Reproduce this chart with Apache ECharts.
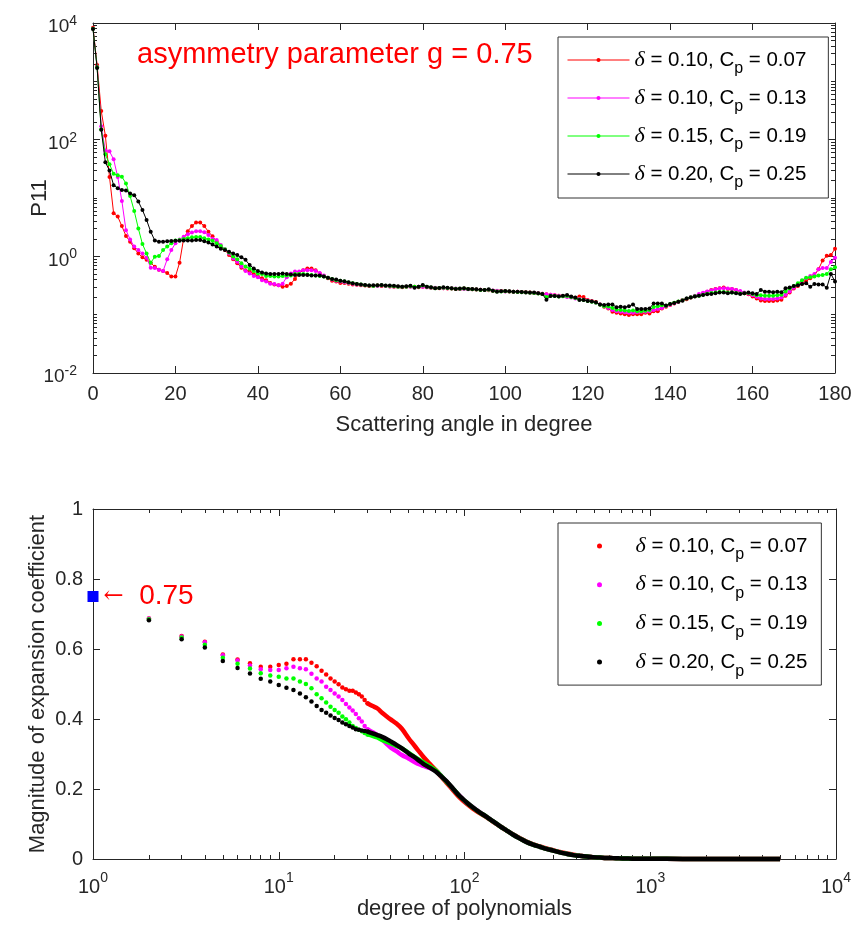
<!DOCTYPE html>
<html><head><meta charset="utf-8">
<script src="https://cdn.jsdelivr.net/npm/echarts@6.0.0/dist/echarts.min.js"></script>
<style>html,body{margin:0;padding:0;background:#fff}#c{width:860px;height:931px}</style>
</head><body><div id="c"></div>
<script>
// ---------- data ----------
const deltas = ['0.10', '0.10', '0.15', '0.20'];
const cps = ['0.07', '0.13', '0.19', '0.25'];
const colors = ['#ff0000', '#ff00ff', '#00ff00', '#000000'];
const gValue = 0.75;
const topTitle = 'asymmetry parameter g = ';
const topXName = 'Scattering angle in degree';
const topYName = 'P11';
const botXName = 'degree of polynomials';
const botYName = 'Magnitude of expansion coefficient';
const topYLabelValues = [0.01, 1, 100, 10000];
const botXLabelValues = [1, 10, 100, 1000, 10000];

// P11 vs scattering angle, 0..180 degree in 1 degree steps
const p11Red = [
8300,1900,310,117,23,5.5,4.8,3.3,2.24,1.78,
1.37,1.12,0.96,0.87,0.78,0.66,0.59,0.56,0.52,0.45,
0.45,0.78,2.04,2.7,3.3,3.8,3.8,3.3,2.65,2.2,
1.78,1.47,1.29,1.05,0.89,0.76,0.64,0.58,0.55,0.5,
0.45,0.42,0.39,0.35,0.33,0.32,0.3,0.31,0.34,0.41,
0.51,0.58,0.62,0.62,0.58,0.51,0.46,0.42,0.38,0.37,
0.35,0.35,0.34,0.33,0.325,0.32,0.315,0.31,0.31,0.315,
0.31,0.31,0.305,0.3,0.3,0.296,0.3,0.305,0.3,0.296,
0.3,0.296,0.29,0.286,0.283,0.283,0.28,0.28,0.276,0.276,
0.28,0.276,0.272,0.27,0.268,0.265,0.262,0.258,0.255,0.255,
0.252,0.25,0.248,0.248,0.245,0.242,0.24,0.236,0.232,0.228,
0.224,0.22,0.216,0.212,0.208,0.205,0.2,0.195,0.205,0.2,
0.178,0.172,0.165,0.15,0.137,0.128,0.112,0.108,0.105,0.102,
0.099,0.102,0.102,0.102,0.108,0.105,0.114,0.115,0.128,0.137,
0.147,0.156,0.167,0.178,0.184,0.197,0.207,0.217,0.232,0.248,
0.265,0.276,0.283,0.292,0.276,0.276,0.265,0.248,0.232,0.223,
0.204,0.19,0.175,0.172,0.172,0.172,0.175,0.18,0.21,0.24,
0.28,0.31,0.34,0.38,0.42,0.47,0.6,0.85,1.02,1.05,
1.35];
const p11Magenta = [
8000,1780,170,65,63,46,23,8.9,2.8,1.95,
1.47,1.28,1.12,0.95,0.64,0.63,0.59,0.56,0.89,1.28,
1.67,1.95,2.17,2.38,2.55,2.7,2.7,2.58,2.32,2.0,
1.9,1.56,1.32,1.12,0.92,0.81,0.67,0.56,0.51,0.46,
0.44,0.39,0.37,0.34,0.335,0.32,0.34,0.44,0.51,0.55,
0.55,0.58,0.58,0.58,0.56,0.52,0.47,0.43,0.4,0.38,
0.37,0.36,0.35,0.34,0.33,0.325,0.32,0.315,0.31,0.31,
0.315,0.31,0.305,0.305,0.3,0.3,0.3,0.3,0.296,0.3,
0.3,0.296,0.29,0.29,0.286,0.283,0.283,0.28,0.28,0.276,
0.276,0.272,0.272,0.27,0.268,0.265,0.265,0.26,0.256,0.252,
0.25,0.25,0.246,0.246,0.243,0.24,0.238,0.235,0.232,0.228,
0.224,0.22,0.215,0.21,0.206,0.2,0.197,0.19,0.185,0.18,
0.175,0.168,0.16,0.15,0.14,0.13,0.12,0.115,0.112,0.11,
0.108,0.108,0.11,0.112,0.112,0.115,0.12,0.125,0.13,0.14,
0.148,0.157,0.167,0.178,0.19,0.2,0.212,0.225,0.238,0.25,
0.262,0.272,0.28,0.285,0.28,0.275,0.265,0.255,0.24,0.228,
0.215,0.2,0.19,0.186,0.186,0.186,0.19,0.197,0.22,0.25,
0.29,0.33,0.38,0.42,0.46,0.5,0.6,0.63,0.63,0.8,
0.95];
const p11Green = [
8000,1740,150,56,38,26,24.5,23.2,17.8,10.8,
6.0,3.0,1.62,1.12,0.78,0.98,1.01,1.28,1.47,1.67,
1.86,1.9,1.98,2.04,2.12,2.14,2.14,2.04,1.95,1.85,
1.67,1.5,1.32,1.16,0.99,0.89,0.76,0.67,0.61,0.56,
0.51,0.5,0.46,0.46,0.45,0.45,0.46,0.47,0.47,0.5,
0.5,0.5,0.49,0.48,0.47,0.46,0.45,0.43,0.41,0.39,
0.38,0.37,0.355,0.345,0.335,0.328,0.32,0.315,0.31,0.315,
0.318,0.312,0.31,0.306,0.302,0.3,0.302,0.306,0.3,0.3,
0.315,0.3,0.292,0.285,0.286,0.29,0.286,0.28,0.278,0.278,
0.28,0.275,0.274,0.27,0.266,0.264,0.268,0.258,0.25,0.25,
0.252,0.25,0.246,0.245,0.243,0.24,0.237,0.236,0.23,0.226,
0.2,0.212,0.208,0.204,0.207,0.208,0.2,0.194,0.182,0.178,
0.172,0.166,0.16,0.148,0.14,0.138,0.13,0.122,0.12,0.118,
0.116,0.118,0.115,0.115,0.117,0.12,0.135,0.14,0.145,0.142,
0.152,0.16,0.168,0.176,0.19,0.198,0.206,0.212,0.22,0.228,
0.236,0.24,0.245,0.245,0.24,0.24,0.235,0.23,0.232,0.235,
0.225,0.215,0.215,0.212,0.212,0.212,0.215,0.22,0.25,0.28,
0.31,0.344,0.39,0.43,0.44,0.45,0.47,0.48,0.5,0.6,
0.65];
const p11Black = [
7900,1700,148,41,29.5,16.6,14.7,13.7,13.4,12,
11.2,8.7,6.2,4.2,2.65,1.86,1.78,1.78,1.82,1.83,
1.85,1.85,1.86,1.87,1.87,1.9,1.91,1.82,1.73,1.6,
1.47,1.35,1.29,1.2,1.12,1.05,0.96,0.87,0.71,0.62,
0.56,0.53,0.51,0.5,0.5,0.5,0.51,0.5,0.49,0.48,
0.48,0.48,0.48,0.47,0.47,0.47,0.45,0.43,0.41,0.4,
0.38,0.375,0.36,0.345,0.336,0.33,0.323,0.315,0.318,0.32,
0.323,0.316,0.316,0.312,0.308,0.302,0.308,0.312,0.29,0.302,
0.323,0.302,0.295,0.283,0.286,0.295,0.29,0.283,0.276,0.28,
0.283,0.276,0.276,0.272,0.268,0.265,0.272,0.258,0.248,0.251,
0.255,0.251,0.248,0.248,0.245,0.242,0.239,0.239,0.232,0.226,
0.18,0.209,0.209,0.205,0.21,0.217,0.204,0.197,0.178,0.178,
0.172,0.168,0.163,0.15,0.147,0.15,0.15,0.134,0.137,0.134,
0.14,0.15,0.125,0.125,0.125,0.128,0.156,0.156,0.156,0.143,
0.152,0.159,0.167,0.174,0.19,0.197,0.204,0.21,0.217,0.223,
0.226,0.232,0.239,0.239,0.232,0.239,0.232,0.226,0.232,0.239,
0.232,0.226,0.265,0.248,0.248,0.242,0.248,0.242,0.283,0.292,
0.31,0.32,0.336,0.344,0.302,0.336,0.33,0.33,0.29,0.5,
0.37];

// expansion coefficients: separate dots for degrees 2..30
const nDots = [2,3,4,5,6,7,8,9,10,11,12,13,14,15,16,17,18,19,20,21,22,23,24,25,26,27,28,29,30];
const coefRedDots = [0.687,0.637,0.621,0.584,0.570,0.559,0.549,0.549,0.554,
0.558,0.571,0.571,0.571,0.561,0.551,0.538,0.527,0.516,0.507,
0.499,0.490,0.485,0.481,0.481,0.476,0.471,0.464,0.454,0.445];
const coefMagentaDots = [0.687,0.636,0.619,0.582,0.567,0.553,0.542,0.540,0.540,
0.545,0.549,0.545,0.542,0.529,0.516,0.507,0.492,0.483,0.473,
0.464,0.454,0.443,0.433,0.424,0.414,0.402,0.393,0.380,0.371];
const coefGreenDots = [0.685,0.633,0.612,0.575,0.558,0.544,0.531,0.524,0.521,
0.516,0.516,0.507,0.500,0.488,0.471,0.459,0.447,0.435,0.426,
0.418,0.407,0.399,0.390,0.380,0.374,0.369,0.365,0.360,0.356];
const coefBlackDots = [0.682,0.628,0.604,0.566,0.546,0.530,0.515,0.507,0.497,
0.489,0.483,0.473,0.462,0.450,0.437,0.426,0.418,0.410,0.403,
0.397,0.390,0.385,0.380,0.376,0.371,0.369,0.367,0.366,0.364];

// dense part (degree >= 30) where the dots merge into a band
const nBand = [30,32,34,36,38,40,43,46,50,53,56,60,65,70,75,80,87,94,102,111,120,131,142,155,168,182,198,215,234,254,276,300,326,354,385,418,454,490,535,580,630,680,740,800,900,1000,1500,2000,3000,4000,5000];
const coefRedBand = [0.445,0.437,0.43,0.418,0.408,0.399,0.387,0.372,0.345,0.328,0.312,0.292,0.272,0.254,0.235,0.218,0.196,0.176,0.159,0.144,0.132,0.12,0.107,0.094,0.082,0.071,0.06,0.05,0.042,0.036,0.03,0.025,0.02,0.016,0.012,0.009,0.007,0.005,0.004,0.003,0.0025,0.002,0.0015,0.001,0.0008,0.0006,0.0003,0.0002,0.0001,0.0001,0];
const coefMagentaBand = [0.371,0.362,0.354,0.342,0.33,0.319,0.308,0.297,0.287,0.279,0.272,0.266,0.26,0.252,0.237,0.222,0.2,0.181,0.163,0.148,0.135,0.121,0.108,0.094,0.082,0.07,0.059,0.049,0.041,0.035,0.029,0.024,0.019,0.015,0.011,0.009,0.007,0.005,0.004,0.003,0.0025,0.002,0.0015,0.001,0.0008,0.0006,0.0003,0.0002,0.0001,0.0001,0];
const coefGreenBand = [0.356,0.352,0.347,0.34,0.335,0.331,0.323,0.316,0.303,0.294,0.286,0.276,0.265,0.253,0.237,0.221,0.2,0.18,0.163,0.147,0.134,0.121,0.108,0.094,0.082,0.07,0.059,0.049,0.041,0.035,0.029,0.024,0.019,0.015,0.011,0.009,0.007,0.005,0.004,0.003,0.0025,0.002,0.0015,0.001,0.0008,0.0006,0.0003,0.0002,0.0001,0.0001,0];
const coefBlackBand = [0.364,0.359,0.354,0.349,0.343,0.336,0.326,0.316,0.302,0.293,0.284,0.272,0.261,0.25,0.236,0.222,0.2,0.18,0.163,0.147,0.134,0.121,0.108,0.094,0.082,0.07,0.059,0.049,0.041,0.035,0.029,0.024,0.019,0.015,0.011,0.009,0.007,0.005,0.004,0.003,0.0025,0.002,0.0015,0.001,0.0008,0.0006,0.0003,0.0002,0.0001,0.0001,0];

// ---------- chart ----------
const p11All = [p11Red, p11Magenta, p11Green, p11Black];
const dotsAll = [coefRedDots, coefMagentaDots, coefGreenDots, coefBlackDots];
const bandAll = [coefRedBand, coefMagentaBand, coefGreenBand, coefBlackBand];
const angles = p11Red.map((_, i) => i);

const AX = '#262626';
const FONT = 'Liberation Sans';

function logMinor(k0, k1, withDecades) {
  const out = [];
  for (let k = k0; k <= k1; k++) {
    for (let m = (withDecades ? 1 : 2); m <= 9; m++) {
      out.push(Number((m * Math.pow(10, k)).toPrecision(6)));
    }
  }
  return out;
}
const topMinor = logMinor(-2, 3, true).filter(v => topYLabelValues.indexOf(v) < 0);
const botMinor = logMinor(0, 3, false);

function supFmt(v) {
  const e = Math.round(Math.log10(v));
  return '{b|10}{s|' + e + '}';
}
const lineStyle = { color: AX, width: 1 };

function axisBase(extra) {
  return Object.assign({
    axisLine: { show: true, onZero: false, lineStyle },
    splitLine: { show: false },
    nameMoveOverlap: false,
    animation: false
  }, extra);
}

const xAxes = [
  axisBase({ gridIndex: 0, type: 'value', min: 0, max: 180, interval: 20, position: 'bottom',
    axisTick: { inside: true, length: 7, lineStyle },
    axisLabel: { fontSize: 20, fontFamily: FONT, color: AX, margin: 11 },
    name: topXName, nameLocation: 'middle', nameGap: 41,
    nameTextStyle: { fontSize: 22, fontFamily: FONT, color: AX } }),
  axisBase({ gridIndex: 0, type: 'value', min: 0, max: 180, interval: 20, position: 'top',
    axisTick: { inside: true, length: 7, lineStyle }, axisLabel: { show: false } }),
  axisBase({ gridIndex: 1, type: 'log', logBase: 10, min: 1, max: 10000, position: 'bottom',
    axisTick: { inside: true, length: 7, lineStyle, customValues: botXLabelValues },
    axisLabel: { customValues: botXLabelValues, formatter: supFmt, margin: 18,
      rich: { b: { fontSize: 20, fontFamily: FONT, color: AX, lineHeight: 20 },
              s: { fontSize: 14, fontFamily: FONT, color: AX, lineHeight: 12, padding: [0, 0, 17, 0] } } },
    name: botXName, nameLocation: 'middle', nameGap: 39,
    nameTextStyle: { fontSize: 22, fontFamily: FONT, color: AX } }),
  axisBase({ gridIndex: 1, type: 'log', logBase: 10, min: 1, max: 10000, position: 'bottom',
    axisLine: { show: false, onZero: false },
    axisTick: { inside: true, length: 4, lineStyle, customValues: botMinor }, axisLabel: { show: false } }),
  axisBase({ gridIndex: 1, type: 'log', logBase: 10, min: 1, max: 10000, position: 'top',
    axisTick: { inside: true, length: 7, lineStyle, customValues: botXLabelValues }, axisLabel: { show: false } }),
  axisBase({ gridIndex: 1, type: 'log', logBase: 10, min: 1, max: 10000, position: 'top',
    axisLine: { show: false, onZero: false },
    axisTick: { inside: true, length: 4, lineStyle, customValues: botMinor }, axisLabel: { show: false } })
];

const yAxes = [
  axisBase({ gridIndex: 0, type: 'log', logBase: 10, min: 0.01, max: 10000, position: 'left',
    axisTick: { inside: true, length: 7, lineStyle, customValues: topYLabelValues },
    axisLabel: { customValues: topYLabelValues, formatter: supFmt, margin: 16,
      rich: { b: { fontSize: 19, fontFamily: FONT, color: AX, lineHeight: 20, padding: [8, 0, 0, 0] },
              s: { fontSize: 14, fontFamily: FONT, color: AX, lineHeight: 12, padding: [0, 0, 4, 0] } } },
    name: topYName, nameLocation: 'middle', nameGap: 42,
    nameTextStyle: { fontSize: 22, fontFamily: FONT, color: AX } }),
  axisBase({ gridIndex: 0, type: 'log', logBase: 10, min: 0.01, max: 10000, position: 'left',
    axisLine: { show: false, onZero: false },
    axisTick: { inside: true, length: 4, lineStyle, customValues: topMinor }, axisLabel: { show: false } }),
  axisBase({ gridIndex: 0, type: 'log', logBase: 10, min: 0.01, max: 10000, position: 'right',
    axisTick: { inside: true, length: 7, lineStyle, customValues: topYLabelValues }, axisLabel: { show: false } }),
  axisBase({ gridIndex: 0, type: 'log', logBase: 10, min: 0.01, max: 10000, position: 'right',
    axisLine: { show: false, onZero: false },
    axisTick: { inside: true, length: 4, lineStyle, customValues: topMinor }, axisLabel: { show: false } }),
  axisBase({ gridIndex: 1, type: 'value', min: 0, max: 1, interval: 0.2, position: 'left',
    axisTick: { inside: true, length: 7, lineStyle },
    axisLabel: { fontSize: 20, fontFamily: FONT, color: AX, margin: 10 },
    name: botYName, nameLocation: 'middle', nameGap: 44,
    nameTextStyle: { fontSize: 22, fontFamily: FONT, color: AX } }),
  axisBase({ gridIndex: 1, type: 'value', min: 0, max: 1, interval: 0.2, position: 'right',
    axisTick: { inside: true, length: 7, lineStyle }, axisLabel: { show: false } })
];

const series = [];
p11All.forEach((vals, i) => {
  series.push({
    type: 'line', name: 'a' + i, xAxisIndex: 0, yAxisIndex: 0,
    data: angles.map((a, j) => [a, vals[j]]),
    symbol: 'circle', symbolSize: 4, showSymbol: true,
    lineStyle: { width: 1, color: colors[i] }, itemStyle: { color: colors[i], opacity: 1 },
    z: 2 + i, animation: false, silent: true
  });
});
dotsAll.forEach((vals, i) => {
  series.push({
    type: 'scatter', name: 'b' + i, xAxisIndex: 2, yAxisIndex: 4,
    data: nDots.map((n, j) => [n, vals[j]]),
    symbol: 'circle', symbolSize: 4.5, itemStyle: { color: colors[i], opacity: 1 },
    z: 2 + i, animation: false, silent: true, clip: false
  });
  series.push({
    type: 'line', name: 'c' + i, xAxisIndex: 2, yAxisIndex: 4,
    data: nBand.map((n, j) => [n, bandAll[i][j]]),
    showSymbol: false, smooth: 0.3, lineStyle: { width: 4.5, color: colors[i] },
    itemStyle: { color: colors[i] }, z: 2 + i, animation: false, silent: true, clip: false
  });
});
series.push({
  type: 'scatter', name: 'g', xAxisIndex: 2, yAxisIndex: 4,
  data: [[1, gValue]], symbol: 'rect', symbolSize: 11,
  itemStyle: { color: '#0000ff', opacity: 1 }, z: 20, clip: false, animation: false, silent: true,
  label: { show: true, position: 'right', distance: 5,
    formatter: () => '{a|\u2190}{b|  ' + gValue + '}',
    rich: { a: { fontFamily: 'DejaVu Serif', fontSize: 24, color: '#ff0000' },
            b: { fontFamily: FONT, fontSize: 28, color: '#ff0000' } } }
});

const legendRich = {
  d: { fontFamily: 'Liberation Serif', fontStyle: 'italic', fontSize: 22, lineHeight: 32, color: '#000' },
  t: { fontFamily: FONT, fontSize: 20.5, lineHeight: 32, color: '#000' },
  s: { fontFamily: FONT, fontSize: 16, lineHeight: 14, padding: [18, 0, 0, 0], color: '#000' }
};
function legendText(name) {
  const i = +name.slice(1);
  return '{d|\u03b4}{t| = ' + deltas[i] + ', C}{s|p}{t| = ' + cps[i] + '}';
}
function legendCfg(prefix, top, padding, gap) {
  return {
    data: [0, 1, 2, 3].map(i => prefix + i),
    orient: 'vertical', left: 558, top: top, padding: padding, itemGap: gap,
    itemWidth: 62, itemHeight: 5, borderColor: '#333', borderWidth: 1, backgroundColor: '#fff',
    lineStyle: { width: 1 },
    formatter: legendText, textStyle: { rich: legendRich }, selectedMode: false
  };
}

const option = {
  animation: false,
  backgroundColor: '#fff',
  title: { text: topTitle + gValue, left: 137, top: 41, padding: 0,
    textStyle: { color: '#ff0000', fontSize: 29, fontWeight: 'normal', fontFamily: FONT, lineHeight: 28 } },
  grid: [
    { left: 93, top: 23, width: 742, height: 350, containLabel: false },
    { left: 93, top: 509, width: 743, height: 350, containLabel: false }
  ],
  xAxis: xAxes,
  yAxis: yAxes,
  legend: [legendCfg('a', 37, [6, 22, 7, 9], 4), legendCfg('b', 523, [6, 14, 6, 39], 4.7)],
  series: series
};
const chart = echarts.init(document.getElementById('c'), null, { renderer: 'canvas', width: 860, height: 931 });
chart.setOption(option);
</script>
</body></html>
